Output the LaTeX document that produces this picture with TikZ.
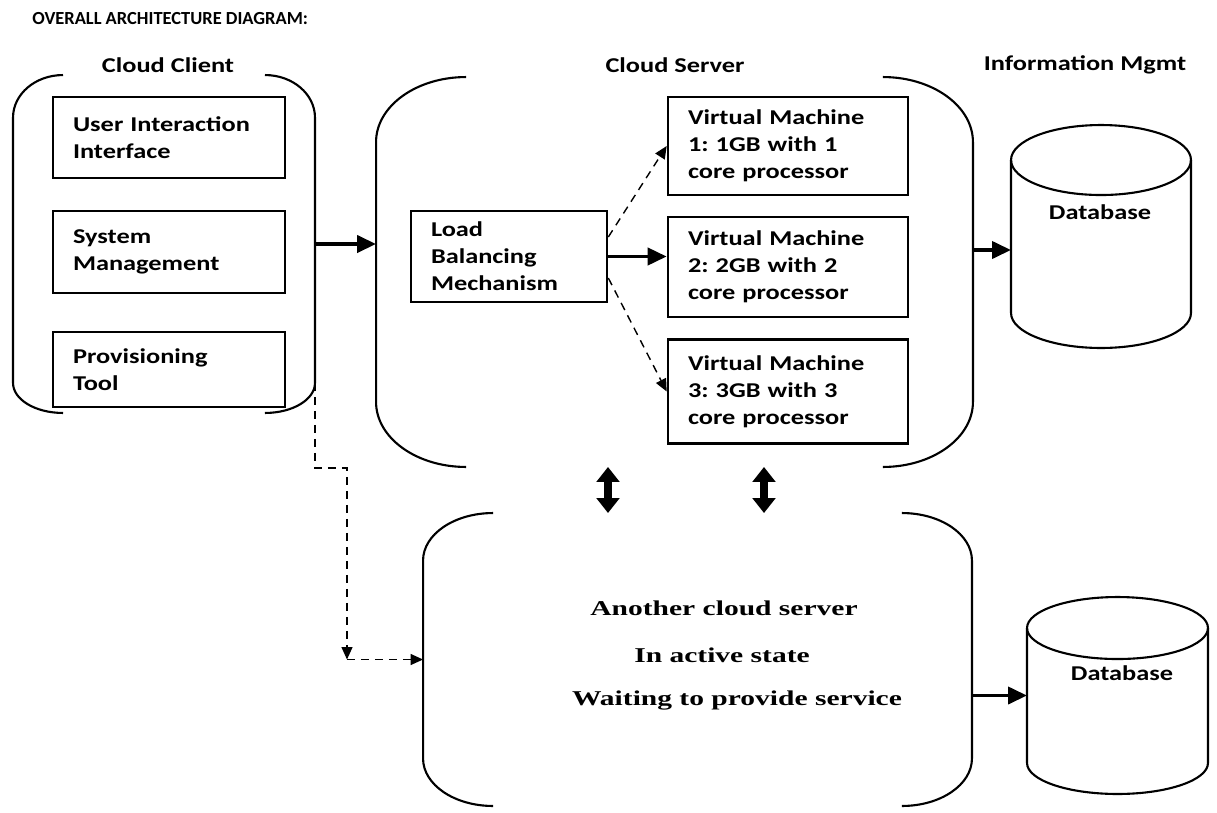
\documentclass[tikz,border=0pt]{standalone}
\usepackage{fontspec}
\setmainfont{Carlito}[FakeStretch=1.25]
\newfontfamily\titlefont{Carlito}
\newfontfamily\timesbold{Liberation Serif}[FakeStretch=1.4]
\frenchspacing
\usetikzlibrary{arrows.meta}

\begin{document}
\begin{tikzpicture}[x=0.02cm, y=-0.02cm,
  box/.style={draw, line width=1.5pt, align=left, inner xsep=0.4cm, font=\fontsize{12}{15.3}\selectfont\bfseries},
  area/.style={inner sep=0pt, outer sep=0pt},
  frame/.style={line width=1.2pt},
  head/.style={font=\fontsize{12}{14}\selectfont\bfseries},
  serif/.style={font=\timesbold\bfseries\fontsize{12}{14}\selectfont},
  bigarrow/.style={line width=2.2pt, -{Triangle[length=0.38cm,width=0.34cm]}},
  dasharrow/.style={line width=0.8pt, dash pattern=on 0.16cm off 0.12cm, -{Triangle[length=0.25cm,width=0.22cm]}},
  dblarrow/.style={line width=4pt, {Triangle[length=0.3cm,width=0.45cm]}-{Triangle[length=0.3cm,width=0.45cm]}}]

\useasboundingbox (0,0) rectangle (1217,812);

\node (17) [anchor=west, inner sep=0pt, font=\titlefont\fontsize{10.5}{12}\selectfont\bfseries] at (32,19) {OVERALL ARCHITECTURE DIAGRAM:};
\node (18) [head] at (168,65) {Cloud Client};
\node (19) [head] at (675,65) {Cloud Server};
\node (20) [head] at (1085,65) {Information Mgmt};

% cloud client
\node (0) [area, minimum width=6.04cm, minimum height=6.76cm] at (164,244) {};
\draw[frame] ([xshift=1cm]0.north west) arc[start angle=90, end angle=180, x radius=1cm, y radius=0.85cm] -- ([yshift=0.6cm]0.south west) arc[start angle=180, end angle=270, x radius=1cm, y radius=0.6cm];
\draw[frame] ([xshift=-1cm]0.north east) arc[start angle=90, end angle=0, x radius=1cm, y radius=0.85cm] -- ([yshift=0.6cm]0.south east) arc[start angle=0, end angle=-90, x radius=1cm, y radius=0.6cm];

\node (1) [box, text width=3.84cm, minimum height=1.62cm] at (169,137.5) {User Interaction\\Interface};
\node (2) [box, text width=3.84cm, minimum height=1.64cm] at (169,252) {System\\Management};
\node (3) [box, text width=3.84cm, minimum height=1.5cm] at (169,369.5) {Provisioning\\Tool};

% cloud server
\node (4) [area, minimum width=11.94cm, minimum height=7.8cm] at (674.5,272) {};
\draw[frame] ([xshift=1.8cm]4.north west) arc[start angle=90, end angle=180, x radius=1.8cm, y radius=1.3cm] -- ([yshift=1.3cm]4.south west) arc[start angle=180, end angle=270, x radius=1.8cm, y radius=1.3cm];
\draw[frame] ([xshift=-1.8cm]4.north east) arc[start angle=90, end angle=0, x radius=1.8cm, y radius=1.3cm] -- ([yshift=1.3cm]4.south east) arc[start angle=0, end angle=-90, x radius=1.8cm, y radius=1.3cm];

\node (5) [box, text width=3.12cm, minimum height=1.82cm] at (509,256.5) {Load\\Balancing\\Mechanism};
\node (6) [box, text width=4cm, minimum height=1.96cm] at (788,146) {Virtual Machine\\1: 1GB with 1\\core processor};
\node (7) [box, text width=4cm, minimum height=2cm] at (788,267) {Virtual Machine\\2: 2GB with 2\\core processor};
\node (8) [box, text width=4cm, minimum height=2.08cm] at (788,391.5) {Virtual Machine\\3: 3GB with 3\\core processor};

% another cloud server
\node (9) [area, minimum width=10.98cm, minimum height=5.86cm] at (697.5,659.5) {};
\draw[frame] ([xshift=1.4cm]9.north west) arc[start angle=90, end angle=180, x radius=1.4cm, y radius=0.95cm] -- ([yshift=0.95cm]9.south west) arc[start angle=180, end angle=270, x radius=1.4cm, y radius=0.95cm];
\draw[frame] ([xshift=-1.4cm]9.north east) arc[start angle=90, end angle=0, x radius=1.4cm, y radius=0.95cm] -- ([yshift=0.95cm]9.south east) arc[start angle=0, end angle=-90, x radius=1.4cm, y radius=0.95cm];

\node (14) [serif] at (724,608) {Another cloud server};
\node (15) [serif] at (722,655) {In active state};
\node (16) [serif] at (737,700) {Waiting to provide service};

% databases
\node (10) [area, minimum width=3.6cm, minimum height=4.46cm] at (1101,236.5) {};
\draw[frame] ([yshift=-0.7cm]10.north) ellipse [x radius=1.8cm, y radius=0.7cm];
\draw[frame] ([yshift=-0.7cm]10.north west) -- ([yshift=0.7cm]10.south west) arc[start angle=180, end angle=360, x radius=1.8cm, y radius=0.7cm] -- ([yshift=-0.7cm]10.north east);
\node (12) [head] at (1100,212) {Database};

\node (11) [area, minimum width=3.62cm, minimum height=3.94cm] at (1117.5,695.5) {};
\draw[frame] ([yshift=-0.62cm]11.north) ellipse [x radius=1.81cm, y radius=0.62cm];
\draw[frame] ([yshift=-0.62cm]11.north west) -- ([yshift=0.62cm]11.south west) arc[start angle=180, end angle=360, x radius=1.81cm, y radius=0.62cm] -- ([yshift=-0.62cm]11.north east);
\node (13) [head] at (1122,673) {Database};

% connectors
\coordinate (c1) at ([yshift=-0.27cm]10.west);
\coordinate (c2) at (608,490);
\coordinate (c3) at (764,490);
\coordinate (c4) at ([yshift=0.6cm]0.south east);
\coordinate (c5) at (347,468);

\draw[bigarrow] (0.east) -- (0.east -| 4.west);
\draw[bigarrow] (5.east) -- (5.east -| 7.west);
\draw[dasharrow] ([yshift=0.39cm]5.east) -- (6.west);
\draw[dasharrow] ([yshift=-0.43cm]5.east) -- (8.west);
\draw[bigarrow] (c1 -| 4.east) -- (c1);
\draw[bigarrow] (9.east |- 11.west) -- (11.west);
\draw[dblarrow] (4.south -| c2) -- (9.north -| c2);
\draw[dblarrow] (4.south -| c3) -- (9.north -| c3);
\draw[dasharrow] (c4) |- (c5) -- (c5 |- 9.west);
\draw[dasharrow] (c5 |- 9.west) -- (9.west);

\end{tikzpicture}
\end{document}
